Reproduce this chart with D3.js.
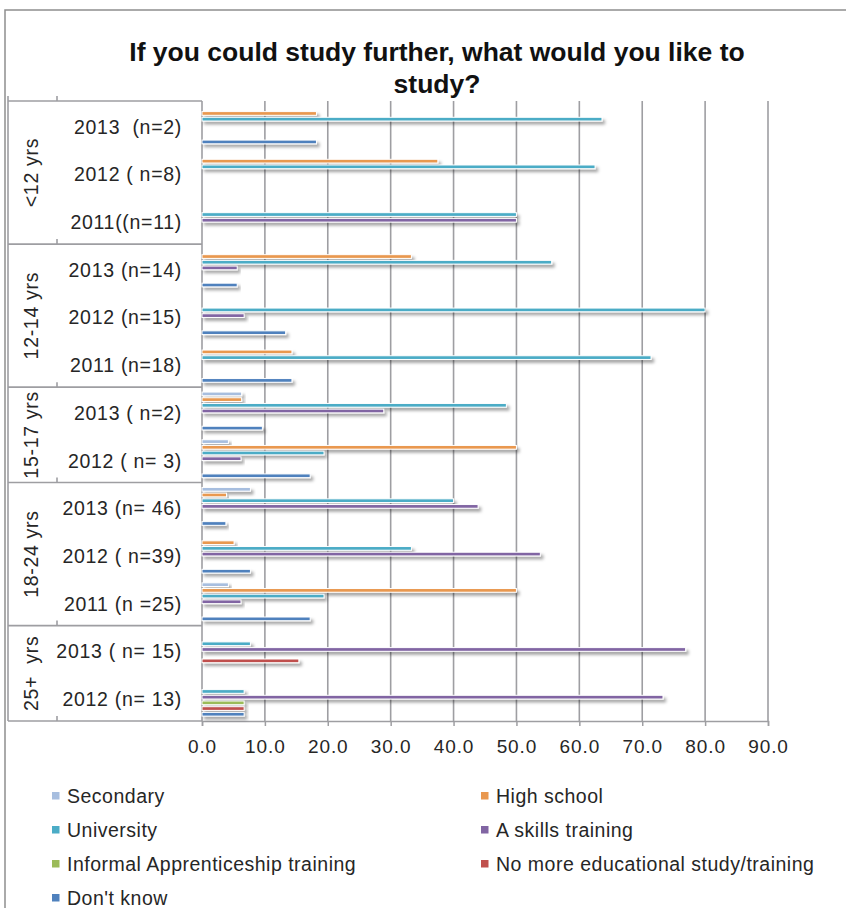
<!DOCTYPE html>
<html>
<head>
<meta charset="utf-8">
<script src="https://cdn.jsdelivr.net/npm/d3@7"></script>
<style>
  html, body { margin: 0; padding: 0; background: #fff; }
  svg { display: block; }
  text { font-family: "Liberation Sans", Arial, Helvetica, sans-serif; fill: #262626; white-space: pre; }
</style>
</head>
<body>
<div id="chart"></div>
<script>
// Survey answers: share of respondents (%) per age group and survey year
const groups = [
  { name: "<12 yrs",   rows: 3 },
  { name: "12-14 yrs", rows: 3 },
  { name: "15-17 yrs", rows: 2 },
  { name: "18-24 yrs", rows: 3 },
  { name: "25+  yrs",  rows: 2 }
];
const categories = [
  "2013  (n=2)", "2012 ( n=8)", "2011((n=11)",
  "2013 (n=14)", "2012 (n=15)", "2011 (n=18)",
  "2013 ( n=2)", "2012 ( n= 3)",
  "2013 (n= 46)", "2012 ( n=39)", "2011 (n =25)",
  "2013 ( n= 15)", "2012 (n= 13)"
];
const seriesNames = [
  "Secondary", "High school", "University", "A skills training",
  "Informal Apprenticeship training", "No more educational study/training", "Don't know"
];
const seriesColors = ["#a7bedf", "#e9984f", "#4bacc6", "#8165a3", "#9bbb59", "#c0504d", "#4f81bd"];

// one array per series, aligned with categories (0 = no bar)
const secondary   = [0, 0, 0,    0, 0, 0,    6.3, 4.2,   7.7, 0, 4.2,    0, 0];
const highSchool  = [18.2, 37.5, 0,   33.3, 0, 14.3,   6.3, 50.0,   3.9, 5.1, 50.0,   0, 0];
const university  = [63.6, 62.5, 50.0,   55.6, 80.0, 71.4,   48.4, 19.4,   40.0, 33.3, 19.4,   7.7, 6.7];
const skills      = [0, 0, 50.0,   5.6, 6.7, 0,   28.9, 6.2,   43.9, 53.8, 6.2,   76.9, 73.3];
const informal    = [0, 0, 0,   0, 0, 0,   0, 0,   0, 0, 0,   0, 6.7];
const noMore      = [0, 0, 0,   0, 0, 0,   0, 0,   0, 0, 0,   15.4, 6.7];
const dontKnow    = [18.2, 0, 0,   5.6, 13.3, 14.3,   9.6, 17.2,   3.8, 7.7, 17.2,   0, 6.7];
const seriesValues = [secondary, highSchool, university, skills, informal, noMore, dontKnow];

const xTicks = [0, 10, 20, 30, 40, 50, 60, 70, 80, 90];
const titleLines = ["If you could study further, what would you like to", "study?"];

const W = 846, H = 908;
const plot = { left: 202, right: 768, top: 101, bottom: 721 };
const table = { left: 8, mid: 57 };

const svg = d3.select("#chart").append("svg").attr("width", W).attr("height", H);

const defs = svg.append("defs");
const shadow = defs.append("filter").attr("id", "barShadow")
  .attr("x", "-5%").attr("y", "-100%").attr("width", "115%").attr("height", "400%");
shadow.append("feDropShadow").attr("dx", 2.5).attr("dy", 3).attr("stdDeviation", 1.8)
  .attr("flood-color", "#000").attr("flood-opacity", 0.35);

// chart frame
svg.append("path").attr("d", `M5,${H} V10 H${W}`)
  .attr("fill", "none").attr("stroke", "#8f8f8f").attr("stroke-width", 1.5);

// title
svg.append("g").selectAll("text").data(titleLines).join("text")
  .attr("x", 437).attr("y", (d, i) => 61 + i * 32)
  .attr("text-anchor", "middle")
  .style("font-weight", "bold").style("font-size", "26.5px").style("fill", "#111")
  .text(d => d);

// scales
const x = d3.scaleLinear().domain([0, 90]).range([plot.left, plot.right]);
const y = d3.scaleBand().domain(categories).range([plot.top, plot.bottom]).padding(0);
const ySub = d3.scaleBand().domain(seriesNames).range([0, y.bandwidth()])
  .paddingInner(0.35).paddingOuter(0.86);

// vertical gridlines
svg.append("g").selectAll("line").data(xTicks.slice(1)).join("line")
  .attr("x1", d => x(d)).attr("x2", d => x(d))
  .attr("y1", plot.top).attr("y2", plot.bottom)
  .attr("stroke", "#9e9ea2").attr("stroke-width", 1.6);

// bottom value axis
const xAxis = svg.append("g").attr("transform", `translate(0,${plot.bottom})`)
  .call(d3.axisBottom(x).tickValues(xTicks).tickFormat(d3.format(".1f")).tickSize(5).tickPadding(14));
xAxis.select(".domain").attr("stroke", "#9e9ea2").attr("stroke-width", 1.5);
xAxis.selectAll(".tick line").attr("stroke", "#9e9ea2").attr("stroke-width", 1.5);
xAxis.selectAll(".tick text")
  .style("font-family", "Liberation Sans, Arial, sans-serif")
  .style("font-size", "19px").style("letter-spacing", "0.9px").attr("fill", "#333");

// category table on the left
const tableG = svg.append("g").attr("stroke", "#9e9ea2").attr("stroke-width", 1.6).attr("fill", "none");
let start = 0;
const bounds = [0];
groups.forEach(g => { start += g.rows; bounds.push(start); });
const boundaryY = i => (i < categories.length ? y(categories[i]) : plot.bottom);
tableG.selectAll("line.sep").data(bounds).join("line").attr("class", "sep")
  .attr("x1", table.left).attr("x2", plot.left)
  .attr("y1", d => boundaryY(d)).attr("y2", d => boundaryY(d));
tableG.selectAll("line.stub").data(bounds).join("line").attr("class", "stub")
  .attr("x1", table.mid).attr("x2", table.mid)
  .attr("y1", d => boundaryY(d) - 5).attr("y2", d => boundaryY(d));
tableG.append("line").attr("x1", table.left).attr("x2", table.left)
  .attr("y1", plot.top - 5).attr("y2", plot.bottom);
tableG.append("line").attr("x1", plot.left).attr("x2", plot.left)
  .attr("y1", plot.top).attr("y2", plot.bottom);

// inner level labels (year and sample size)
svg.append("g").selectAll("text").data(categories).join("text")
  .attr("x", 182).attr("y", d => y(d) + y.bandwidth() / 2 + 2)
  .attr("dy", "0.35em").attr("text-anchor", "end")
  .style("font-size", "19.5px").style("letter-spacing", "0.7px")
  .text(d => d);

// outer level labels (age groups), rotated
svg.append("g").selectAll("text").data(groups).join("text")
  .attr("transform", (d, i) => {
    const cy = (boundaryY(bounds[i]) + boundaryY(bounds[i + 1])) / 2;
    return `translate(31,${cy}) rotate(-90)`;
  })
  .attr("dy", "0.35em").attr("text-anchor", "middle")
  .style("font-size", "19.5px").style("letter-spacing", "0.7px")
  .text(d => d.name);

// bars
const barData = [];
seriesValues.forEach((vals, s) => {
  vals.forEach((v, c) => {
    if (v > 0) barData.push({ series: seriesNames[s], color: seriesColors[s], cat: categories[c], value: v });
  });
});
svg.append("g").selectAll("rect").data(barData).join("rect")
  .attr("x", x(0))
  .attr("y", d => y(d.cat) + ySub(d.series))
  .attr("width", d => x(d.value) - x(0))
  .attr("height", ySub.bandwidth())
  .attr("fill", d => d.color)
  .attr("stroke", "#fff").attr("stroke-width", 1)
  .attr("filter", "url(#barShadow)");

// legend, two columns
const legend = svg.append("g").selectAll("g").data(seriesNames).join("g")
  .attr("transform", (d, i) => `translate(${i % 2 === 0 ? 52 : 481},${796 + Math.floor(i / 2) * 34})`);
legend.append("rect").attr("x", 0).attr("y", -4).attr("width", 7.5).attr("height", 7.5)
  .attr("fill", (d, i) => seriesColors[i]);
legend.append("text").attr("x", 15).attr("dy", "0.35em")
  .style("font-size", "19.5px").style("letter-spacing", "0.5px")
  .text(d => d);
</script>
</body>
</html>
